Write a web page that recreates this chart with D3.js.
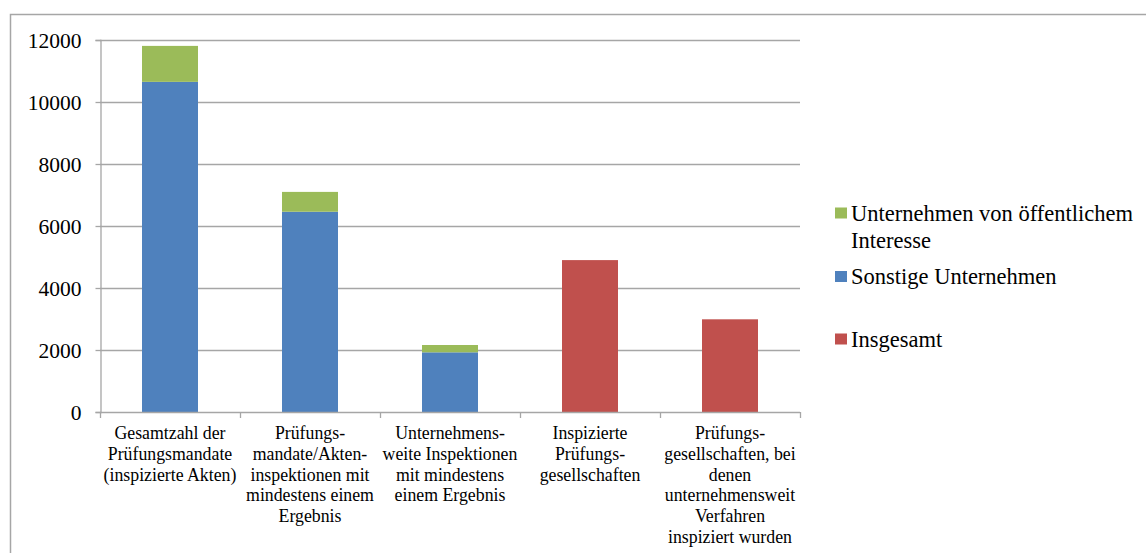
<!DOCTYPE html>
<html>
<head>
<meta charset="utf-8">
<script src="https://cdn.jsdelivr.net/npm/d3@7"></script>
<style>
  html, body { margin: 0; padding: 0; background: #fff; }
  svg { display: block; }
</style>
</head>
<body>
<div id="chart"></div>
<script>
// Kategorien (Zeilenumbrüche wie in der Achsenbeschriftung)
const categories = [
  ["Gesamtzahl der", "Prüfungsmandate", "(inspizierte Akten)"],
  ["Prüfungs-", "mandate/Akten-", "inspektionen mit", "mindestens einem", "Ergebnis"],
  ["Unternehmens-", "weite Inspektionen", "mit mindestens", "einem Ergebnis"],
  ["Inspizierte", "Prüfungs-", "gesellschaften"],
  ["Prüfungs-", "gesellschaften, bei", "denen", "unternehmensweit", "Verfahren", "inspiziert wurden"]
];
const seriesNames = ["Sonstige Unternehmen", "Unternehmen von öffentlichem Interesse", "Insgesamt"];
const sonstige = [10650, 6460, 1925, 0, 0];
const oeffentlich = [1160, 640, 236, 0, 0];
const insgesamt = [0, 0, 0, 4900, 2990];
const yTicks = [0, 2000, 4000, 6000, 8000, 10000, 12000];

const colors = {
  "Sonstige Unternehmen": "#4F81BD",
  "Unternehmen von öffentlichem Interesse": "#9BBB59",
  "Insgesamt": "#C0504D"
};

const FONT = "'Liberation Serif', Tinos, 'Times New Roman', 'Nimbus Roman', 'DejaVu Serif', serif";

const W = 1146, H = 553;
const svg = d3.select("#chart").append("svg").attr("width", W).attr("height", H)
  .style("font-family", FONT);
svg.append("rect").attr("width", W).attr("height", H).attr("fill", "#fff");

// Rahmen des Diagrammbereichs
svg.append("rect")
  .attr("x", 10.5).attr("y", 14.5)
  .attr("width", W + 20).attr("height", H + 20)
  .attr("fill", "none").attr("stroke", "#a6a6a6").attr("stroke-width", 1.5);

const plot = { left: 100, right: 800, top: 40, bottom: 412 };

const x = d3.scaleBand()
  .domain(d3.range(categories.length))
  .range([plot.left, plot.right])
  .paddingInner(0.6).paddingOuter(0.3);
const step = x.step();

const y = d3.scaleLinear().domain([0, 12000]).range([plot.bottom, plot.top]);

// Gitternetzlinien
svg.append("g").selectAll("line").data(yTicks.slice(1)).join("line")
  .attr("x1", plot.left).attr("x2", plot.right)
  .attr("y1", d => Math.round(y(d)) + 0.5).attr("y2", d => Math.round(y(d)) + 0.5)
  .attr("stroke", "#a6a6a6").attr("stroke-width", 1.3);

// Gestapelte Daten
const rows = categories.map((c, i) => ({
  i,
  "Sonstige Unternehmen": sonstige[i],
  "Unternehmen von öffentlichem Interesse": oeffentlich[i],
  "Insgesamt": insgesamt[i]
}));
const stack = d3.stack().keys(seriesNames)(rows);

svg.append("g").selectAll("g").data(stack).join("g")
  .attr("fill", d => colors[d.key])
  .selectAll("rect").data(d => d.filter(p => p[1] - p[0] > 0)).join("rect")
  .attr("x", d => x(d.data.i))
  .attr("width", x.bandwidth())
  .attr("y", d => y(d[1]))
  .attr("height", d => y(d[0]) - y(d[1]));

// Y-Achse
const yAxis = d3.axisLeft(y).tickValues(yTicks).tickSize(5).tickPadding(14).tickFormat(d3.format("d"));
const gy = svg.append("g").attr("transform", `translate(${plot.left + 0.5},0)`).call(yAxis)
  .attr("font-family", FONT);
gy.select(".domain").attr("stroke", "#a6a6a6").attr("stroke-width", 1.3);
gy.selectAll(".tick line").attr("stroke", "#a6a6a6").attr("stroke-width", 1.3);
gy.selectAll(".tick text").attr("font-size", 21.5).attr("fill", "#000").attr("dy", "0.35em");

// X-Achse mit Teilstrichen an den Kategoriegrenzen
const gx = svg.append("g");
gx.append("line")
  .attr("x1", plot.left).attr("x2", plot.right)
  .attr("y1", plot.bottom + 0.5).attr("y2", plot.bottom + 0.5)
  .attr("stroke", "#a6a6a6").attr("stroke-width", 1.3);
gx.selectAll("line.tk").data(d3.range(categories.length + 1)).join("line")
  .attr("class", "tk")
  .attr("x1", d => plot.left + d * step + 0.5).attr("x2", d => plot.left + d * step + 0.5)
  .attr("y1", plot.bottom).attr("y2", plot.bottom + 6)
  .attr("stroke", "#a6a6a6").attr("stroke-width", 1.3);

// Kategoriebeschriftungen
const labels = gx.selectAll("text.cat").data(categories).join("text")
  .attr("class", "cat")
  .attr("text-anchor", "middle")
  .attr("font-size", 17.8);
labels.each(function(lines, i) {
  const cx = x(i) + x.bandwidth() / 2;
  d3.select(this).selectAll("tspan").data(lines).join("tspan")
    .attr("x", cx)
    .attr("y", (d, k) => 439 + k * 20.8)
    .text(d => d);
});

// Legende
const legendItems = [
  { key: "Unternehmen von öffentlichem Interesse", lines: ["Unternehmen von öffentlichem", "Interesse"], y: 213 },
  { key: "Sonstige Unternehmen", lines: ["Sonstige Unternehmen"], y: 276.5 },
  { key: "Insgesamt", lines: ["Insgesamt"], y: 339 }
];
const lg = svg.append("g").selectAll("g").data(legendItems).join("g");
lg.append("rect")
  .attr("x", 835).attr("y", d => d.y - 5.5)
  .attr("width", 12).attr("height", 11)
  .attr("fill", d => colors[d.key]);
lg.append("text")
  .attr("font-size", 22.5)
  .each(function(d) {
    d3.select(this).selectAll("tspan").data(d.lines).join("tspan")
      .attr("x", 851)
      .attr("y", (t, k) => d.y + 7.5 + k * 27)
      .text(t => t);
  });
</script>
</body>
</html>
